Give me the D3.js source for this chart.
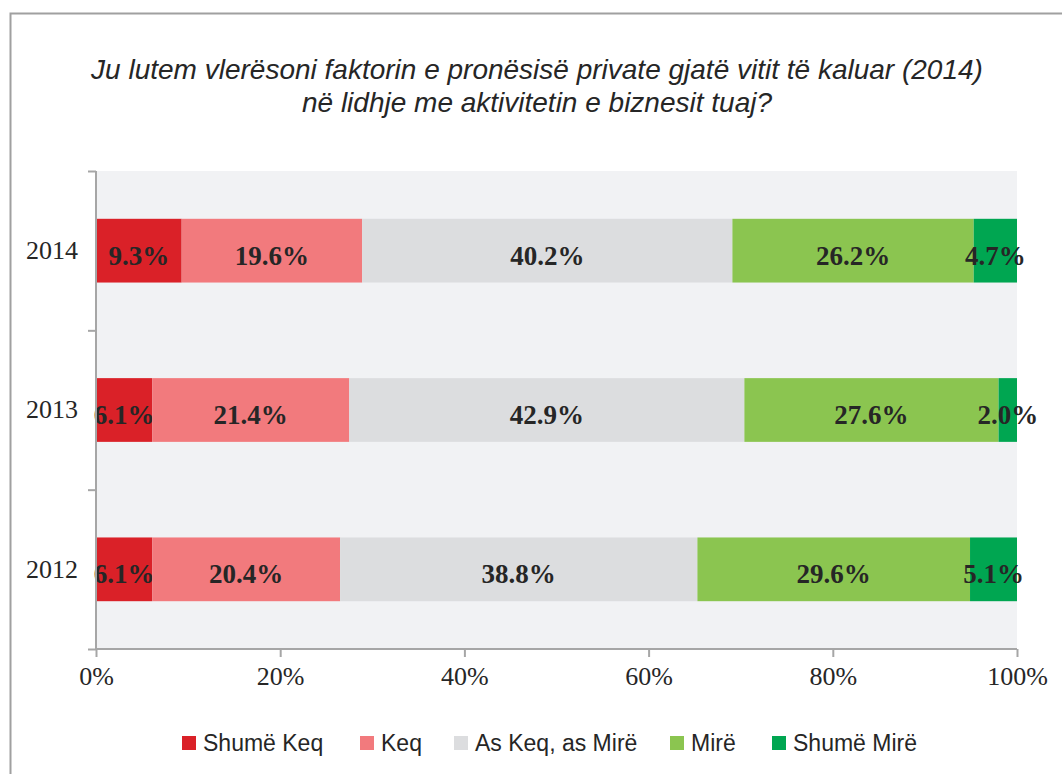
<!DOCTYPE html>
<html>
<head>
<meta charset="utf-8">
<script src="https://cdn.jsdelivr.net/npm/d3@7"></script>
<style>
  body { margin: 0; background: #fff; }
  svg { display: block; }
  .title { font-family: "Liberation Sans", sans-serif; font-style: italic; font-size: 28px; fill: #262626; }
  .axis text { font-family: "Liberation Serif", serif; font-size: 26px; fill: #262626; }
  .axis path, .axis line { stroke: #a6a6a6; stroke-width: 2px; }
  .label { font-family: "Liberation Serif", serif; font-weight: bold; font-size: 27px; fill: #262626; }
  .legend text { font-family: "Liberation Sans", sans-serif; font-size: 23px; fill: #262626; }
</style>
</head>
<body>
<svg id="svg" width="1062" height="774"></svg>
<script>
// categories (top to bottom) and series
var years = ["2014", "2013", "2012"];
var series = ["Shumë Keq", "Keq", "As Keq, as Mirë", "Mirë", "Shumë Mirë"];
var colors = ["#da2128", "#f27a7d", "#dcdddf", "#8bc550", "#00a651"];

// values per series, in the order of years
var shumeKeq = [9.3, 6.1, 6.1];
var keq = [19.6, 21.4, 20.4];
var asKeqAsMire = [40.2, 42.9, 38.8];
var mire = [26.2, 27.6, 29.6];
var shumeMire = [4.7, 2.0, 5.1];

var xTicks = [0, 20, 40, 60, 80, 100];
var titleLines = [
  "Ju lutem vlerësoni faktorin e pronësisë private gjatë vitit të kaluar (2014)",
  "në lidhje me aktivitetin e biznesit tuaj?"
];

var values = [shumeKeq, keq, asKeqAsMire, mire, shumeMire];
var rows = years.map(function (yr, i) {
  var r = { year: yr };
  series.forEach(function (s, j) { r[s] = values[j][i]; });
  return r;
});

var svg = d3.select("#svg");

// outer frame (cropped on right and bottom)
svg.append("path")
  .attr("d", "M10.5,774 V13.5 H1062")
  .attr("fill", "none")
  .attr("stroke", "#a0a0a0")
  .attr("stroke-width", 2);

// title
svg.append("text")
  .attr("class", "title")
  .attr("text-anchor", "middle")
  .selectAll("tspan")
  .data(titleLines)
  .enter()
  .append("tspan")
  .attr("x", 537)
  .attr("y", function (d, i) { return 79 + i * 33; })
  .text(function (d) { return d; });

var plotLeft = 96, plotRight = 1017, plotTop = 171, plotBottom = 649;

var x = d3.scaleLinear().domain([0, 100]).range([plotLeft, plotRight]);
var y = d3.scaleBand().domain(years).range([plotTop, plotBottom]).paddingInner(0.6).paddingOuter(0.3);

// plot background
svg.append("rect")
  .attr("x", plotLeft).attr("y", plotTop)
  .attr("width", plotRight - plotLeft).attr("height", plotBottom - plotTop)
  .attr("fill", "#f1f2f4");

var stacked = d3.stack().keys(series)(rows);

var groups = svg.selectAll(".series")
  .data(stacked)
  .enter()
  .append("g")
  .attr("class", "series")
  .attr("fill", function (d, i) { return colors[i]; });

groups.selectAll("rect")
  .data(function (d) { return d; })
  .enter()
  .append("rect")
  .attr("x", function (d) { return x(d[0]); })
  .attr("y", function (d) { return y(d.data.year); })
  .attr("width", function (d) { return x(d[1]) - x(d[0]); })
  .attr("height", y.bandwidth());

// axes
svg.append("g")
  .attr("class", "axis")
  .attr("transform", "translate(" + plotLeft + ",0)")
  .call(d3.axisLeft(y).tickSize(0).tickPadding(18))
  .call(function (g) { g.select(".domain").remove(); });

svg.append("g")
  .attr("class", "axis")
  .attr("transform", "translate(" + plotLeft + ",0)")
  .call(d3.axisLeft(d3.scaleLinear().domain([0, 3]).range([plotTop, plotBottom])).ticks(3).tickSize(8).tickFormat(""))
  .call(function (g) { g.select(".domain").attr("d", "M0," + plotTop + "V" + plotBottom); });

svg.append("g")
  .attr("class", "axis")
  .attr("transform", "translate(0," + plotBottom + ")")
  .call(d3.axisBottom(x).tickValues(xTicks).tickSize(8).tickPadding(10).tickFormat(function (d) { return d + "%"; }))
  .call(function (g) { g.select(".domain").attr("d", "M" + plotLeft + ",0H" + plotRight); });

// data labels
groups.selectAll("text")
  .data(function (d) { return d; })
  .enter()
  .append("text")
  .attr("class", "label")
  .attr("text-anchor", "middle")
  .attr("dominant-baseline", "central")
  .attr("x", function (d) { return (x(d[0]) + x(d[1])) / 2; })
  .attr("y", function (d) { return y(d.data.year) + y.bandwidth() / 2 + 5; })
  .text(function (d) { return (d[1] - d[0]).toFixed(1) + "%"; });

// legend
var legendX = [182, 360, 454, 670, 772];
var legend = svg.append("g").attr("class", "legend")
  .selectAll("g")
  .data(series)
  .enter()
  .append("g")
  .attr("transform", function (d, i) { return "translate(" + legendX[i] + ",743)"; });

legend.append("rect")
  .attr("x", 0).attr("y", -7)
  .attr("width", 14).attr("height", 14)
  .attr("fill", function (d, i) { return colors[i]; });

legend.append("text")
  .attr("x", 21)
  .attr("y", 0)
  .attr("dominant-baseline", "central")
  .text(function (d) { return d; });
</script>
</body>
</html>
